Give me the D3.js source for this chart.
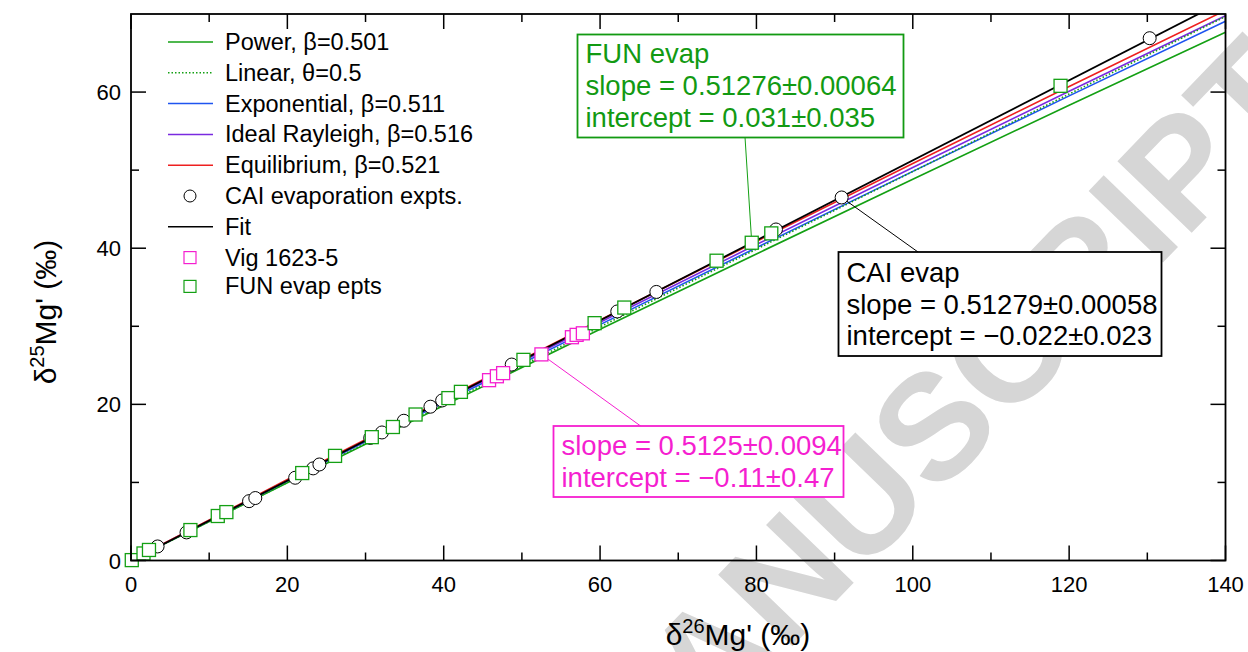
<!DOCTYPE html>
<html><head><meta charset="utf-8">
<script src="https://cdn.jsdelivr.net/npm/d3@7"></script>
<style>
html,body{margin:0;padding:0;background:#fff;}
svg{display:block;font-family:"Liberation Sans",Arial,Helvetica,sans-serif;}
</style></head>
<body>
<svg id="chart" width="1248" height="652"></svg>
<script>
// ---------------- data ----------------
const xTicks = [0, 20, 40, 60, 80, 100, 120, 140];
const yTicks = [0, 20, 40, 60];
const modelX = [0, 20, 40, 60, 80, 100, 120, 140];
const powerY = [0, 9.97, 19.84, 29.61, 39.27, 48.84, 58.31, 67.67];
const linearY = [0, 9.99, 19.97, 29.93, 39.88, 49.82, 59.75, 69.68];
const exponentialY = [0, 10.17, 20.24, 30.21, 40.07, 49.84, 59.51, 69.07];
const rayleighY = [0, 10.27, 20.44, 30.51, 40.47, 50.34, 60.11, 69.77];
const equilibriumY = [0, 10.37, 20.64, 30.81, 40.87, 50.84, 60.71, 70.47];
const fitX = [0, 140];
const fitY = [-0.022, 71.77];
const caiX = [3.4, 7.1, 15.1, 15.9, 21.0, 23.3, 24.1, 30.6, 32.1, 34.9, 38.3, 39.8, 48.7, 62.2, 67.2, 82.5, 90.9, 130.3];
const caiY = [1.8, 3.6, 7.6, 8.0, 10.6, 11.8, 12.3, 15.7, 16.4, 17.9, 19.7, 20.5, 25.1, 31.9, 34.4, 42.4, 46.5, 66.9];
const vigX = [45.8, 46.8, 47.6, 52.5, 56.4, 57.0, 57.8];
const vigY = [23.1, 23.6, 24.0, 26.4, 28.6, 28.9, 29.1];
const funX = [0.1, 1.6, 2.3, 7.6, 11.1, 12.2, 21.9, 26.1, 30.8, 33.5, 36.4, 40.6, 42.2, 50.2, 59.3, 63.1, 74.9, 79.4, 81.9, 118.9];
const funY = [0.05, 0.9, 1.35, 3.9, 5.7, 6.2, 11.2, 13.4, 15.8, 17.1, 18.7, 20.8, 21.6, 25.7, 30.4, 32.4, 38.4, 40.7, 41.9, 60.8];
const legendLabels = ["Power, β=0.501", "Linear, θ=0.5", "Exponential, β=0.511", "Ideal Rayleigh, β=0.516",
  "Equilibrium, β=0.521", "CAI evaporation expts.", "Fit", "Vig 1623-5", "FUN evap epts"];
const funBoxText = ["FUN evap", "slope = 0.51276±0.00064", "intercept = 0.031±0.035"];
const caiBoxText = ["CAI evap", "slope = 0.51279±0.00058", "intercept = −0.022±0.023"];
const vigBoxText = ["slope = 0.5125±0.0094", "intercept = −0.11±0.47"];

// ---------------- styles ----------------
const C = {green: "#14a014", blue: "#1f55f0", purple: "#7a2ae0", red: "#ee2020", black: "#000",
  pink: "#f51fd0", textGreen: "#129a12"};

const svg = d3.select("#chart");
const L = 131, R = 1225.5, T = 14, B = 560.5;
const x = d3.scaleLinear().domain([0, 140]).range([L, R]);
const y = d3.scaleLinear().domain([0, 70]).range([B, T]);

// watermark
svg.append("text")
  .attr("transform", "translate(1318,102) rotate(-46)")
  .attr("text-anchor", "end")
  .attr("font-size", 150).attr("font-weight", "bold")
  .attr("fill", "#d6d6d6")
  .text("ACCEPTED MANUSCRIPT");

svg.append("clipPath").attr("id", "clip").append("rect")
  .attr("x", L).attr("y", T).attr("width", R - L).attr("height", B - T);

const plot = svg.append("g").attr("clip-path", "url(#clip)");
const line = d3.line().x(d => x(d[0])).y(d => y(d[1])).curve(d3.curveMonotoneX);
const series = [
  {ys: powerY, color: C.green, w: 1.6},
  {ys: exponentialY, color: C.blue, w: 1.6},
  {ys: rayleighY, color: C.purple, w: 1.6},
  {ys: equilibriumY, color: C.red, w: 1.6},
];
series.forEach(s => {
  plot.append("path").datum(modelX.map((v, i) => [v, s.ys[i]]))
    .attr("d", line).attr("fill", "none").attr("stroke", s.color).attr("stroke-width", s.w);
});
plot.append("path").datum(modelX.map((v, i) => [v, linearY[i]]))
  .attr("d", line).attr("fill", "none").attr("stroke", C.green).attr("stroke-width", 1.6)
  .attr("stroke-dasharray", "1.5,2");
plot.append("path").datum(fitX.map((v, i) => [v, fitY[i]]))
  .attr("d", d3.line().x(d => x(d[0])).y(d => y(d[1]))).attr("fill", "none")
  .attr("stroke", "#000").attr("stroke-width", 1.8);

// leader lines (from data points to annotation boxes)
const leader = (px, py, tx, ty, col) => svg.append("line")
  .attr("x1", x(px)).attr("y1", y(py)).attr("x2", tx).attr("y2", ty)
  .attr("stroke", col).attr("stroke-width", 1);
leader(funX[17], funY[17], 745, 137, C.green);
leader(caiX[16], caiY[16], 918, 252, "#000");
leader(vigX[3], vigY[3], 642, 427, C.pink);

// markers
const mk = svg.append("g");
mk.selectAll("circle.cai").data(caiX.map((v, i) => [v, caiY[i]])).join("circle")
  .attr("cx", d => x(d[0])).attr("cy", d => y(d[1])).attr("r", 6.5)
  .attr("fill", "#fff").attr("stroke", "#000").attr("stroke-width", 1);
const sq = 13;
mk.selectAll("rect.vig").data(vigX.map((v, i) => [v, vigY[i]])).join("rect")
  .attr("x", d => x(d[0]) - sq / 2).attr("y", d => y(d[1]) - sq / 2).attr("width", sq).attr("height", sq)
  .attr("fill", "#fff").attr("stroke", C.pink).attr("stroke-width", 1.3);
mk.selectAll("rect.fun").data(funX.map((v, i) => [v, funY[i]])).join("rect")
  .attr("class", "fun")
  .attr("x", d => x(d[0]) - sq / 2).attr("y", d => y(d[1]) - sq / 2).attr("width", sq).attr("height", sq)
  .attr("fill", "#fff").attr("stroke", C.green).attr("stroke-width", 1.3);

// frame + ticks
svg.append("rect").attr("x", L).attr("y", T).attr("width", R - L).attr("height", B - T)
  .attr("fill", "none").attr("stroke", "#000").attr("stroke-width", 1.8);
const xMinor = d3.range(10, 140, 20), yMinor = d3.range(10, 70, 20);
const tk = svg.append("g").attr("stroke", "#000").attr("stroke-width", 1.5);
xTicks.forEach(v => { tk.append("line").attr("x1", x(v)).attr("x2", x(v)).attr("y1", B).attr("y2", B - 15);
  tk.append("line").attr("x1", x(v)).attr("x2", x(v)).attr("y1", T).attr("y2", T + 15); });
xMinor.forEach(v => { tk.append("line").attr("x1", x(v)).attr("x2", x(v)).attr("y1", B).attr("y2", B - 8);
  tk.append("line").attr("x1", x(v)).attr("x2", x(v)).attr("y1", T).attr("y2", T + 8); });
yTicks.forEach(v => { tk.append("line").attr("y1", y(v)).attr("y2", y(v)).attr("x1", L).attr("x2", L + 15);
  tk.append("line").attr("y1", y(v)).attr("y2", y(v)).attr("x1", R).attr("x2", R - 15); });
yMinor.forEach(v => { tk.append("line").attr("y1", y(v)).attr("y2", y(v)).attr("x1", L).attr("x2", L + 8);
  tk.append("line").attr("y1", y(v)).attr("y2", y(v)).attr("x1", R).attr("x2", R - 8); });

// tick labels
svg.append("g").selectAll("text").data(xTicks).join("text")
  .attr("x", d => x(d)).attr("y", B + 31).attr("text-anchor", "middle").attr("font-size", 22).text(d => d);
svg.append("g").selectAll("text").data(yTicks).join("text")
  .attr("x", L - 10).attr("y", d => y(d) + 8).attr("text-anchor", "end").attr("font-size", 22).text(d => d);

// axis titles
const xt = svg.append("text").attr("x", 738).attr("y", 645).attr("text-anchor", "middle").attr("font-size", 30);
xt.append("tspan").text("δ");
xt.append("tspan").attr("dy", -12).attr("font-size", 20).text("26");
xt.append("tspan").attr("dy", 12).text("Mg' (‰)");
const yt = svg.append("text").attr("transform", "translate(56,312) rotate(-90)").attr("text-anchor", "middle").attr("font-size", 30);
yt.append("tspan").text("δ");
yt.append("tspan").attr("dy", -12).attr("font-size", 20).text("25");
yt.append("tspan").attr("dy", 12).text("Mg' (‰)");

// legend
const lg = svg.append("g");
const ly0 = 42, ldy = 30.8;
const lineItems = [
  {i: 0, color: C.green}, {i: 1, color: C.green, dash: "1.5,2"}, {i: 2, color: C.blue},
  {i: 3, color: C.purple}, {i: 4, color: C.red}, {i: 6, color: "#000"}];
lineItems.forEach(o => {
  lg.append("line").attr("x1", 168).attr("x2", 213).attr("y1", ly0 + o.i * ldy).attr("y2", ly0 + o.i * ldy)
    .attr("stroke", o.color).attr("stroke-width", 1.5).attr("stroke-dasharray", o.dash || null);
});
lg.append("circle").attr("cx", 190).attr("cy", ly0 + 5 * ldy).attr("r", 6).attr("fill", "#fff").attr("stroke", "#000");
lg.append("rect").attr("x", 184).attr("y", ly0 + 7 * ldy - 6).attr("width", 12).attr("height", 12)
  .attr("fill", "#fff").attr("stroke", C.pink).attr("stroke-width", 1.2);
lg.append("rect").attr("x", 184).attr("y", ly0 + 8 * ldy - 8).attr("width", 12).attr("height", 12)
  .attr("fill", "#fff").attr("stroke", C.green).attr("stroke-width", 1.2);
legendLabels.forEach((t, i) => {
  lg.append("text").attr("x", 225).attr("y", ly0 + i * ldy + (i === 8 ? 6 : 8)).attr("font-size", 23.5).text(t);
});

// annotation boxes
function box(x0, y0, w, h, lines, col, base, lh) {
  const g = svg.append("g");
  g.append("rect").attr("x", x0).attr("y", y0).attr("width", w).attr("height", h)
    .attr("fill", "#fff").attr("stroke", col).attr("stroke-width", 1.8);
  lines.forEach((t, i) => g.append("text").attr("x", x0 + 8).attr("y", base + i * lh)
    .attr("font-size", 27.5).attr("fill", col).text(t));
}
box(577.5, 34.5, 326, 103, funBoxText, C.textGreen, 63, 32);
box(838.5, 252, 323, 104, caiBoxText, "#000", 282, 31.5);
box(553.5, 426, 290, 71, vigBoxText, C.pink, 455, 31.5);
</script>
</body></html>
